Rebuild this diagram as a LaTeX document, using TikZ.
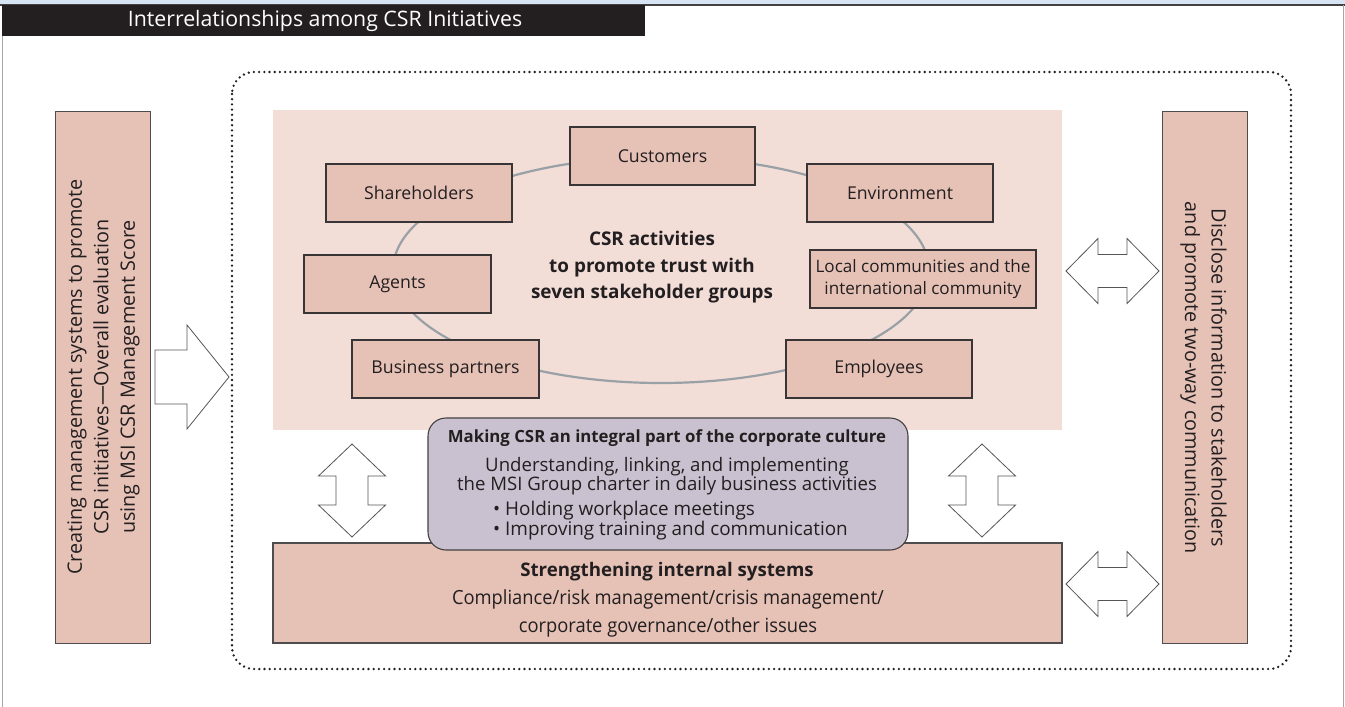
\documentclass[tikz,border=0pt]{standalone}
\usepackage{fontspec}
\setmainfont{Open Sans}
\newfontfamily\condfont[FakeStretch=0.94]{Open Sans}
\usetikzlibrary{calc}
\definecolor{boxpink}{HTML}{E6C1B6}
\definecolor{areapink}{HTML}{F2DDD7}
\definecolor{lav}{HTML}{C9C1CF}
\definecolor{ink}{HTML}{231F20}
\definecolor{ringgray}{HTML}{9AA1A6}
\definecolor{topblue}{HTML}{D6E4F3}
\definecolor{arrowline}{HTML}{555555}
\begin{document}
\begin{tikzpicture}[x=1pt,y=-1pt,
  sbox/.style={draw=ink!90, line width=1.1pt, fill=boxpink, text=ink, inner sep=0pt, align=center,
    font=\fontsize{17.7}{22}\selectfont},
  sidebox/.style={draw=ink!80, line width=1pt, fill=boxpink, inner sep=0pt},
  sidetext/.style={text=ink, align=center, font=\fontsize{19.8}{26.5}\selectfont, inner sep=0pt},
  blockarrow/.style={draw=arrowline, line width=0.8pt, fill=white, line join=miter},
  dotframe/.style={draw=ink, line width=2.6pt, dash pattern=on 0pt off 5.2pt, line cap=round, rounded corners=22pt},
  txt/.style={text=ink, inner sep=0pt}
]
\useasboundingbox (0,0) rectangle (1345,707);
% page frame
\fill[topblue] (0,0) rectangle (1345,5);
\draw[ink!85, line width=1.2pt] (0,5) -- (1345,5);
\draw[gray!70, line width=0.8pt] (2,5) -- (2,707);
\draw[gray!70, line width=0.8pt] (1343,5) -- (1343,707);
\fill[ink] (2,5) rectangle (645,36);
\node[text=white, font=\fontsize{21.3}{24}\selectfont, inner sep=0pt] (title) at (325,20.5) {Interrelationships among CSR Initiatives};

% dotted frame
\draw[dotframe] (232,72) rectangle (1291,669);

% side boxes
\node[sidebox, minimum width=95pt, minimum height=532pt] (left) at (102.5,377) {};
\node[sidetext, rotate=90] (lefttext) at (103.5,377) {Creating management systems to promote\\CSR initiatives---Overall evaluation\\using MSI CSR Management Score};
\node[sidebox, minimum width=85pt, minimum height=532pt] (right) at (1204.5,377) {};
\node[sidetext, rotate=-90] (righttext) at (1203.5,378) {Disclose information to stakeholders\\and promote two-way communication};

% pink area
\node[fill=areapink, minimum width=789pt, minimum height=320pt, inner sep=0pt] (area) at (667.5,270) {};

% ring
\draw[ringgray, line width=2.2pt] (661,270) ellipse [x radius=268, y radius=113];

% stakeholders
\node[sbox, minimum width=185pt, minimum height=58pt] (cust) at (662.5,156) {Customers};
\node[sbox, minimum width=186pt, minimum height=58pt] (share) at (419,193) {Shareholders};
\node[sbox, minimum width=187pt, minimum height=58pt] (agents) at (397.5,284) {Agents};
\node[sbox, minimum width=187pt, minimum height=58pt] (biz) at (445.5,369) {Business partners};
\node[sbox, minimum width=186pt, minimum height=58pt] (env) at (900,193) {Environment};
\node[sbox, minimum width=226pt, minimum height=58pt, font=\fontsize{17.1}{22}\selectfont] (local) at (923,279) {Local communities and the\\international community};
\node[sbox, minimum width=186pt, minimum height=58pt] (emp) at (879,369) {Employees};

\node[txt, align=center, font=\fontsize{18.9}{26.5}\selectfont\bfseries] (csr) at (652,267.5) {CSR activities\\to promote trust with\\seven stakeholder groups};

% strengthening box
\node[sidebox, line width=1.1pt, minimum width=789pt, minimum height=100pt] (strength) at (667.5,593) {};
\node[txt, font=\fontsize{18.7}{20}\selectfont\bfseries] (strtitle) at (667,572) {Strengthening internal systems};
\node[txt, font=\condfont\fontsize{19.5}{20}\selectfont] (strl1) at (668,599) {Compliance/risk management/crisis management/};
\node[txt, font=\condfont\fontsize{19.5}{20}\selectfont] (strl2) at (668,627) {corporate governance/other issues};

% culture box
\draw[draw=ink!85, line width=1.1pt, fill=lav, rounded corners=18pt] (428,418) rectangle (908,550);
\coordinate (culture) at (668,484);
\node[txt, font=\fontsize{16.8}{19}\selectfont\bfseries] (cultitle) at (667,438) {Making CSR an integral part of the corporate culture};
\node[txt, align=center, font=\fontsize{18.6}{16.5}\selectfont] (culmid) at (667,476) {Understanding, linking, and implementing\\the MSI Group charter in daily business activities};
\node[txt, anchor=west, align=left, font=\fontsize{18.9}{18}\selectfont] (culbul) at (493,521) {\textbullet\ Holding workplace meetings\\\textbullet\ Improving training and communication};

% arrows
\draw[blockarrow] (155,350) -- (187,350) -- (187,325) -- (229,377) -- (187,429) -- (187,404) -- (155,404) -- cycle;
\foreach \cy in {271,584}{
  \draw[blockarrow] (1066,\cy) -- (1098,\cy-32.5) -- (1098,\cy-16.5) -- (1127,\cy-16.5) -- (1127,\cy-32.5) -- (1159,\cy)
    -- (1127,\cy+32.5) -- (1127,\cy+16.5) -- (1098,\cy+16.5) -- (1098,\cy+32.5) -- cycle;
}
\foreach \cx in {352,982}{
  \draw[blockarrow] (\cx,444) -- (\cx+33.5,476) -- (\cx+16,476) -- (\cx+16,505) -- (\cx+33.5,505) -- (\cx,537)
    -- (\cx-33.5,505) -- (\cx-16,505) -- (\cx-16,476) -- (\cx-33.5,476) -- cycle;
}
\end{tikzpicture}
\end{document}
